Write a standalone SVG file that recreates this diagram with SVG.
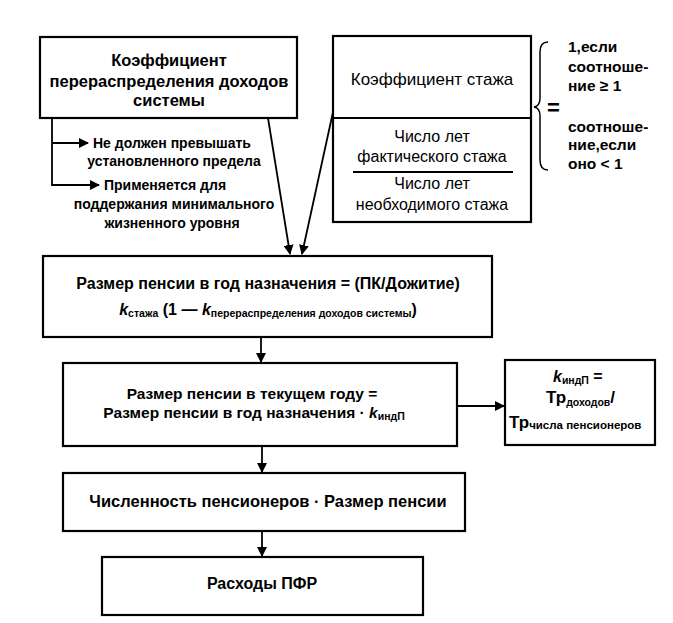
<svg xmlns="http://www.w3.org/2000/svg" width="673" height="623" viewBox="0 0 673 623">
<style>
.box{fill:#fff;stroke:#000;stroke-width:2.2}
.ln{fill:none;stroke:#000;stroke-width:1.8}
text{font-family:"Liberation Sans",Arial,sans-serif;fill:#000}
.b{font-weight:bold}
.t16{font-size:16px}
.t14{font-size:14px}
.c{font-size:15.5px}
.it{font-style:italic}
.sub{font-size:10.5px}
</style>
<defs>
<marker id="ah" viewBox="0 0 10 10" refX="9" refY="5" markerWidth="10" markerHeight="10" markerUnits="userSpaceOnUse" orient="auto">
<path d="M0,0 L10,5 L0,10 z" fill="#000"/>
</marker>
</defs>
<rect x="0" y="0" width="673" height="623" fill="#fff"/>

<g id="connectors">
<polyline class="ln" points="52,118 52,185 99,185" marker-end="url(#ah)"/>
<line class="ln" x1="52" y1="143" x2="88" y2="143" marker-end="url(#ah)"/>
<line class="ln" x1="268" y1="118" x2="290" y2="254" marker-end="url(#ah)"/>
<line class="ln" x1="333" y1="112" x2="302" y2="254" marker-end="url(#ah)"/>
<line class="ln" x1="261" y1="337" x2="261" y2="362" marker-end="url(#ah)"/>
<line class="ln" x1="457" y1="406" x2="504" y2="406" marker-end="url(#ah)"/>
<line class="ln" x1="262" y1="446" x2="262" y2="472" marker-end="url(#ah)"/>
<line class="ln" x1="262" y1="531" x2="262" y2="556" marker-end="url(#ah)"/>
</g>

<g id="node-redistribution">
<rect class="box" x="40" y="37" width="257" height="81"/>
<text class="b" text-anchor="middle" x="169" y="66" style="font-size:16.5px">Коэффициент</text>
<text class="b" text-anchor="middle" x="169" y="87" style="font-size:16.5px">перераспределения доходов</text>
<text class="b" text-anchor="middle" x="169" y="106" style="font-size:16.5px">системы</text>
</g>

<g id="note-limit">
<text class="b t14" x="93" y="148">Не должен превышать</text>
<text class="b t14" text-anchor="middle" x="174" y="166">установленного предела</text>
</g>

<g id="note-minimum">
<text class="b t14" x="104" y="190">Применяется для</text>
<text class="b t14" text-anchor="middle" x="174" y="209">поддержания минимального</text>
<text class="b t14" text-anchor="middle" x="172" y="228">жизненного уровня</text>
</g>

<g id="node-seniority">
<rect class="box" x="333" y="36" width="198" height="186"/>
<line class="ln" x1="333" y1="118" x2="531" y2="118"/>
<text class="t16" text-anchor="middle" x="432" y="85" style="font-size:17px">Коэффициент стажа</text>
<text class="t16" text-anchor="middle" x="432" y="142">Число лет</text>
<text class="t16" text-anchor="middle" x="432" y="162">фактического стажа</text>
<line class="ln" x1="353" y1="172" x2="513" y2="172"/>
<text class="t16" text-anchor="middle" x="432" y="189">Число лет</text>
<text class="t16" text-anchor="middle" x="432" y="210">необходимого стажа</text>
</g>

<g id="node-condition">
<path class="ln" d="M548,42 Q540,42 540,52 L540,98 Q540,106 534,107 Q540,108 540,116 L540,160 Q540,170 548,170" style="stroke-width:1.5"/>
<text class="b" x="547" y="115" style="font-size:22px">=</text>
<text class="b c" x="568" y="52">1,если</text>
<text class="b c" x="568" y="72">соотноше-</text>
<text class="b c" x="568" y="91">ние ≥ 1</text>
<text class="b c" x="568" y="132">соотноше-</text>
<text class="b c" x="568" y="150">ние,если</text>
<text class="b c" x="568" y="169">оно &lt; 1</text>
</g>

<g id="node-initial-pension">
<rect class="box" x="43" y="256" width="449" height="81"/>
<text class="b" text-anchor="middle" x="268" y="289" style="font-size:16px">Размер пенсии в год назначения = (ПК/Дожитие)</text>
<text class="b" text-anchor="middle" x="268" y="315" style="font-size:16px"><tspan class="it">k</tspan><tspan class="sub" dy="2">стажа</tspan><tspan dy="-2"> (1 — </tspan><tspan class="it">k</tspan><tspan class="sub" dy="2">перераспределения доходов системы</tspan><tspan dy="-2">)</tspan></text>
</g>

<g id="node-current-pension">
<rect class="box" x="63" y="363" width="394" height="83"/>
<text class="b" text-anchor="middle" x="252" y="399" style="font-size:15.5px">Размер пенсии в текущем году =</text>
<text class="b" text-anchor="middle" x="254" y="418" style="font-size:15.5px">Размер пенсии в год назначения · <tspan class="it">k</tspan><tspan class="sub" dy="2">индП</tspan></text>
</g>

<g id="node-index">
<rect class="box" x="505" y="360" width="150" height="85"/>
<text class="b" x="553" y="382" style="font-size:16px"><tspan class="it">k</tspan><tspan class="sub" dy="2">индП</tspan><tspan dy="-2"> =</tspan></text>
<text class="b" x="546" y="403" style="font-size:17px">Тр<tspan class="sub" dy="3">доходов</tspan><tspan dy="-3">/</tspan></text>
<text class="b" x="509" y="428" style="font-size:17px">Тр<tspan style="font-size:11.5px" dy="1">числа пенсионеров</tspan></text>
</g>

<g id="node-total">
<rect class="box" x="63" y="473" width="402" height="58"/>
<text class="b" text-anchor="middle" x="268" y="507" style="font-size:16.5px">Численность пенсионеров · Размер пенсии</text>
</g>

<g id="node-expenses">
<rect class="box" x="102" y="557" width="321" height="58"/>
<text class="b" text-anchor="middle" x="262" y="589" style="font-size:16px">Расходы ПФР</text>
</g>
</svg>
